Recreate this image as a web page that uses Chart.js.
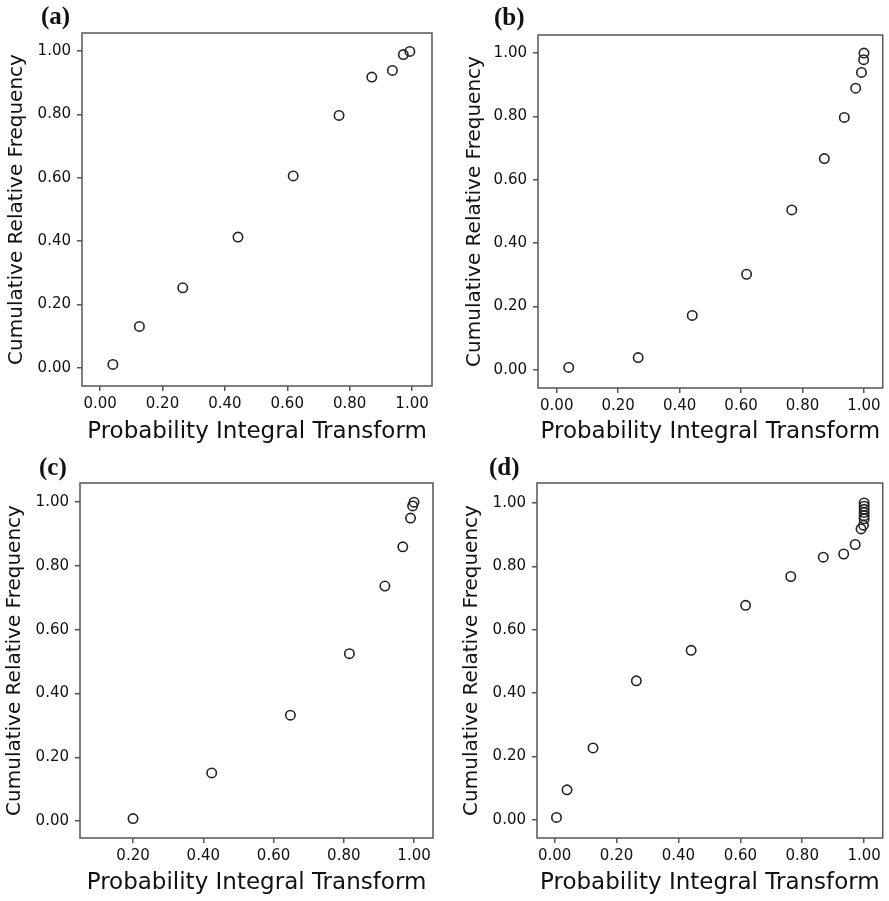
<!DOCTYPE html>
<html>
<head>
<meta charset="utf-8">
<script src="https://cdn.jsdelivr.net/npm/chart.js@4.4.1/dist/chart.umd.min.js"></script>
<style>
  body { margin: 0; background: #fff; }
  #wrap { position: relative; width: 889px; height: 901px; }
  canvas { position: absolute; }
  .tag { position: absolute; font: bold 25px "Liberation Serif", serif; line-height: 25px; color: #111; }
</style>
</head>
<body>
<div id="wrap">
  <canvas id="chartA" width="445" height="450" style="left:0;top:0"></canvas>
  <canvas id="chartB" width="444" height="450" style="left:445px;top:0"></canvas>
  <canvas id="chartC" width="445" height="451" style="left:0;top:450px"></canvas>
  <canvas id="chartD" width="444" height="451" style="left:445px;top:450px"></canvas>
  <div class="tag" style="left:41px;top:3px">(a)</div>
  <div class="tag" style="left:494px;top:4px">(b)</div>
  <div class="tag" style="left:39px;top:454px">(c)</div>
  <div class="tag" style="left:489px;top:454px">(d)</div>
</div>
<script>
// tick labels
const xTicksFull = [0, 0.2, 0.4, 0.6, 0.8, 1.0];
const xTicksC = [0.2, 0.4, 0.6, 0.8, 1.0];
const yTicks = [0, 0.2, 0.4, 0.6, 0.8, 1.0];

// (a)
const xA = [0.041, 0.126, 0.265, 0.442, 0.619, 0.766, 0.871, 0.937, 0.972, 0.993];
const yA = [0.011, 0.131, 0.253, 0.413, 0.606, 0.797, 0.918, 0.939, 0.989, 0.999];
// (b)
const xB = [0.039, 0.265, 0.441, 0.618, 0.765, 0.871, 0.936, 0.973, 0.992, 0.999, 1.0];
const yB = [0.008, 0.039, 0.172, 0.302, 0.505, 0.667, 0.797, 0.889, 0.939, 0.979, 1.0];
// (c)
const xC = [0.200, 0.424, 0.648, 0.816, 0.917, 0.968, 0.990, 0.996, 1.0];
const yC = [0.008, 0.151, 0.332, 0.525, 0.737, 0.860, 0.950, 0.988, 1.0];
// (d)
const xD = [0.006, 0.040, 0.124, 0.264, 0.441, 0.617, 0.763, 0.868, 0.934, 0.971, 0.990, 0.998, 1.0, 1.0, 1.0, 1.0, 1.0, 1.0];
const yD = [0.008, 0.095, 0.227, 0.439, 0.535, 0.677, 0.768, 0.829, 0.839, 0.869, 0.918, 0.930, 0.950, 0.960, 0.970, 0.980, 0.990, 1.0];

Chart.defaults.font.family = '"DejaVu Sans", sans-serif';
Chart.defaults.color = '#111';

// frame round the plot area
const boxPlugin = {
    id: 'box',
    beforeDatasetsDraw(chart) {
        const a = chart.chartArea;
        const ctx = chart.ctx;
        ctx.save();
        ctx.strokeStyle = '#555';
        ctx.lineWidth = 1.5;
        ctx.strokeRect(a.left, a.top, a.right - a.left, a.bottom - a.top);
        ctx.restore();
    }
};

function makePanel(id, xs, ys, xTicks, p) {
    const canvas = document.getElementById(id);
    const H = canvas.height;
    const points = xs.map((x, i) => ({x: x, y: ys[i]}));
    return new Chart(canvas, {
        type: 'scatter',
        data: {
            datasets: [{
                data: points,
                pointRadius: 4.7,
                pointBorderWidth: 1.6,
                pointBorderColor: '#222',
                pointBackgroundColor: 'rgba(0,0,0,0)'
            }]
        },
        options: {
            responsive: false,
            animation: false,
            events: [],
            layout: { padding: { top: p.top, right: p.right, left: 0, bottom: 0 } },
            plugins: { legend: { display: false }, tooltip: { enabled: false } },
            scales: {
                x: {
                    type: 'linear',
                    min: p.xmin, max: p.xmax,
                    afterBuildTicks: s => { s.ticks = xTicks.map(v => ({value: v})); },
                    afterFit: s => { s.height = H - p.bottom; s.paddingLeft = 0; s.paddingRight = 0; },
                    border: { display: false },
                    grid: { drawOnChartArea: false, drawTicks: true, tickLength: 5, color: '#555', lineWidth: 1.5 },
                    ticks: { padding: 4, maxRotation: 0, font: { size: 15 }, callback: v => v.toFixed(2) },
                    title: { display: true, text: 'Probability Integral Transform', font: { size: 23 }, padding: { top: 0, bottom: 4 } }
                },
                y: {
                    type: 'linear',
                    min: p.ymin, max: p.ymax,
                    afterBuildTicks: s => { s.ticks = yTicks.map(v => ({value: v})); },
                    afterFit: s => { s.width = p.left; s.paddingTop = 0; s.paddingBottom = 0; },
                    border: { display: false },
                    grid: { drawOnChartArea: false, drawTicks: true, tickLength: 5, color: '#555', lineWidth: 1.5 },
                    ticks: { padding: 6, font: { size: 15 }, callback: v => v.toFixed(2) },
                    title: { display: true, text: 'Cumulative Relative Frequency', font: { size: 20 }, padding: { top: p.ytitle, bottom: 0 } }
                }
            }
        },
        plugins: [boxPlugin]
    });
}

document.addEventListener('DOMContentLoaded', function() {
    makePanel('chartA', xA, yA, xTicksFull,
        { left: 82, right: 13, top: 33, bottom: 386, xmin: -0.058, xmax: 1.064, ymin: -0.057, ymax: 1.057, ytitle: 5 });
    makePanel('chartB', xB, yB, xTicksFull,
        { left: 93, right: 1, top: 35, bottom: 388, xmin: -0.061, xmax: 1.061, ymin: -0.057, ymax: 1.057, ytitle: 18 });
    makePanel('chartC', xC, yC, xTicksC,
        { left: 80, right: 12, top: 33, bottom: 388, xmin: 0.049, xmax: 1.054, ymin: -0.053, ymax: 1.060, ytitle: 3 });
    makePanel('chartD', xD, yD, xTicksFull,
        { left: 92, right: 1, top: 33, bottom: 388, xmin: -0.057, xmax: 1.060, ymin: -0.057, ymax: 1.063, ytitle: 15 });
});
</script>
</body>
</html>
